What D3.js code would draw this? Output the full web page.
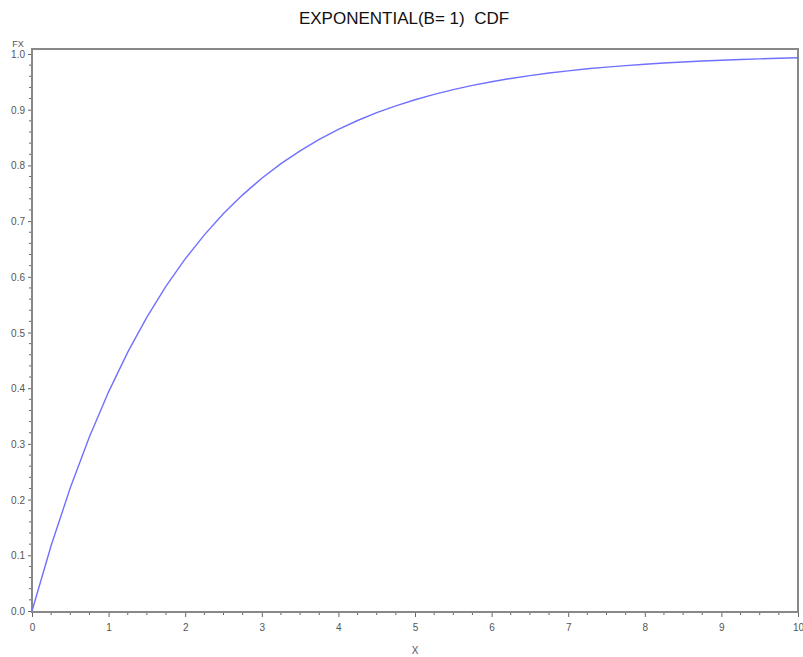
<!DOCTYPE html>
<html>
  <head>
    <meta charset="utf-8">
    <title></title>
    <script src="https://d3js.org/d3.v7.min.js"></script>
  </head>

  <style>
    body {
      margin: 0;
      background-color: white;
    }

    .title {
      font-family: 'Liberation Sans', Arial, sans-serif;
      font-size: 17px;
      text-anchor: middle;
      fill: #111;
      white-space: pre;
    }

    .tick text, .axis_label {
      font-family: 'Liberation Sans', Arial, sans-serif;
      font-size: 10px;
      fill: #555;
    }
  </style>

  <body>
    <div id="chart"></div>
    <script>

    // x values and the CDF
    var xValues = [0, 0.25, 0.5, 0.75, 1, 1.25, 1.5, 1.75, 2, 2.25, 2.5, 2.75,
      3, 3.25, 3.5, 3.75, 4, 4.25, 4.5, 4.75, 5, 5.25, 5.5, 5.75, 6, 6.25,
      6.5, 6.75, 7, 7.25, 7.5, 7.75, 8, 8.25, 8.5, 8.75, 9, 9.25, 9.5, 9.75, 10];
    var fxValues = [0, 0.1175, 0.2212, 0.3127, 0.3935, 0.4647, 0.5276, 0.5831,
      0.6321, 0.6753, 0.7135, 0.7471, 0.7769, 0.8031, 0.8262, 0.8466, 0.8647,
      0.8806, 0.8946, 0.9070, 0.9179, 0.9276, 0.9361, 0.9436, 0.9502, 0.9561,
      0.9612, 0.9658, 0.9698, 0.9734, 0.9765, 0.9792, 0.9817, 0.9838, 0.9857,
      0.9874, 0.9889, 0.9902, 0.9913, 0.9924, 0.9933];

    var xTicks = [0, 1, 2, 3, 4, 5, 6, 7, 8, 9, 10];
    var yTicks = [0, 0.1, 0.2, 0.3, 0.4, 0.5, 0.6, 0.7, 0.8, 0.9, 1.0];

    var titleText = 'EXPONENTIAL(B= 1)  CDF';
    var xLabel = 'X';
    var yLabel = 'FX';

    var width = 803;
    var height = 657;

    var svg = d3.select('#chart').append('svg')
      .attr('width', width)
      .attr('height', height);

    var xScale = d3.scaleLinear()
      .domain([0, 10])
      .range([32, 798]);

    var yScale = d3.scaleLinear()
      .domain([0, 1])
      .range([611, 54]);

    // title
    svg.append('text')
      .attr('class', 'title')
      .attr('x', 404)
      .attr('y', 24)
      .attr('xml:space', 'preserve')
      .text(titleText);

    // minor ticks
    var xMinor = d3.range(0, 40).map(function(i){ return i * 0.25; })
      .filter(function(v){ return v % 1 !== 0; });
    var yMinor = d3.range(0, 50).map(function(i){ return i * 0.02; })
      .filter(function(v, i){ return i % 5 !== 0; });

    svg.append('g')
      .selectAll('line')
      .data(xMinor)
      .enter().append('line')
      .attr('x1', function(d){ return xScale(d); })
      .attr('x2', function(d){ return xScale(d); })
      .attr('y1', 612)
      .attr('y2', 615)
      .attr('stroke', '#666')
      .attr('stroke-width', 1);

    svg.append('g')
      .selectAll('line')
      .data(yMinor)
      .enter().append('line')
      .attr('y1', function(d){ return yScale(d); })
      .attr('y2', function(d){ return yScale(d); })
      .attr('x1', 29)
      .attr('x2', 32)
      .attr('stroke', '#666')
      .attr('stroke-width', 1);

    // axes
    var xAxis = d3.axisBottom(xScale)
      .tickValues(xTicks)
      .tickFormat(d3.format('d'))
      .tickSize(5)
      .tickPadding(7)
      .tickSizeOuter(0);

    var yAxis = d3.axisLeft(yScale)
      .tickValues(yTicks)
      .tickFormat(d3.format('.1f'))
      .tickSize(4)
      .tickPadding(3)
      .tickSizeOuter(0);

    var xGuide = svg.append('g')
      .attr('transform', 'translate(0,612)')
      .call(xAxis);
    xGuide.select('.domain').remove();
    xGuide.selectAll('.tick line').attr('stroke', '#666');

    var yGuide = svg.append('g')
      .attr('transform', 'translate(32,0)')
      .call(yAxis);
    yGuide.select('.domain').remove();
    yGuide.selectAll('.tick line').attr('stroke', '#666');
    yGuide.selectAll('.tick text').attr('dy', '0.35em');

    // frame
    svg.append('rect')
      .attr('x', 32)
      .attr('y', 49)
      .attr('width', 766)
      .attr('height', 563)
      .attr('fill', 'none')
      .attr('stroke', '#888')
      .attr('stroke-width', 2);

    // axis labels
    svg.append('text')
      .attr('class', 'axis_label')
      .attr('x', 415)
      .attr('y', 654)
      .attr('text-anchor', 'middle')
      .text(xLabel);

    svg.append('text')
      .attr('class', 'axis_label')
      .attr('x', 18)
      .attr('y', 47)
      .attr('text-anchor', 'middle')
      .style('font-size', '9px')
      .text(yLabel);

    // CDF curve
    var points = xValues.map(function(x, i){ return [x, fxValues[i]]; });
    var line = d3.line()
      .x(function(d){ return xScale(d[0]); })
      .y(function(d){ return yScale(d[1]); });

    svg.append('path')
      .datum(points)
      .attr('d', line)
      .attr('fill', 'none')
      .attr('stroke', '#7070ff')
      .attr('stroke-width', 1.4);

    </script>
  </body>
</html>
